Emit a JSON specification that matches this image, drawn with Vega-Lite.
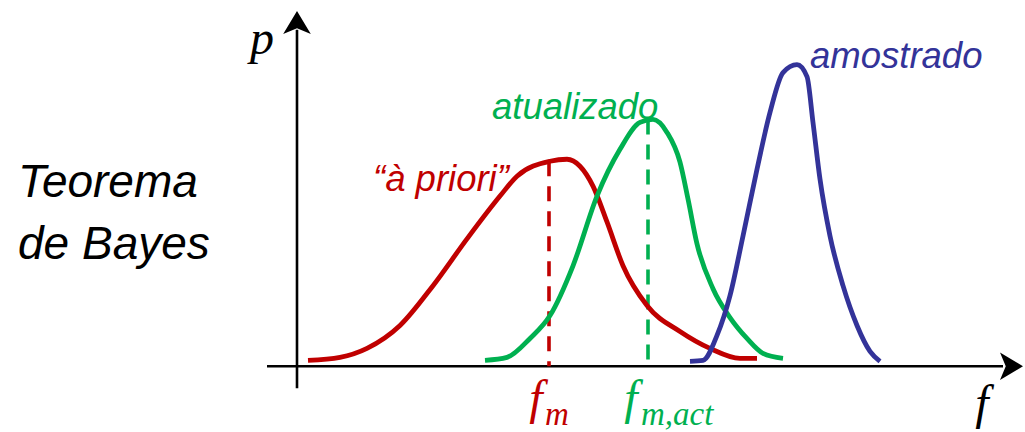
{
  "$schema": "https://vega.github.io/schema/vega-lite/v6.json",
  "width": 1025,
  "height": 432,
  "autosize": {"type": "fit", "contains": "padding"},
  "padding": 0,
  "background": "white",
  "config": {"view": {"stroke": null}},
  "datasets": {
    "axes": [
      {"f": -0.30, "f2": 7.06, "p": 0, "p2": 0, "series": "axis"},
      {"f": 0, "f2": 0, "p": -0.22, "p2": 3.38, "series": "axis"}
    ],
    "heads": [
      {"f": 7.145, "p": 0, "dir": "right", "series": "axis"},
      {"f": 0, "p": 3.455, "dir": "up", "series": "axis"}
    ],
    "curves": [
      {"series": "prior", "f": 0.11, "p": 0.06},
      {"series": "prior", "f": 0.43, "p": 0.09},
      {"series": "prior", "f": 0.70, "p": 0.18},
      {"series": "prior", "f": 1.03, "p": 0.41},
      {"series": "prior", "f": 1.36, "p": 0.81},
      {"series": "prior", "f": 1.70, "p": 1.28},
      {"series": "prior", "f": 2.03, "p": 1.71},
      {"series": "prior", "f": 2.20, "p": 1.91},
      {"series": "prior", "f": 2.53, "p": 2.06},
      {"series": "prior", "f": 2.70, "p": 2.08},
      {"series": "prior", "f": 2.83, "p": 2.01},
      {"series": "prior", "f": 2.96, "p": 1.81},
      {"series": "prior", "f": 3.10, "p": 1.45},
      {"series": "prior", "f": 3.26, "p": 1.01},
      {"series": "prior", "f": 3.50, "p": 0.61},
      {"series": "prior", "f": 3.83, "p": 0.35},
      {"series": "prior", "f": 4.13, "p": 0.18},
      {"series": "prior", "f": 4.43, "p": 0.08},
      {"series": "prior", "f": 4.60, "p": 0.08},
      {"series": "updated", "f": 1.88, "p": 0.06},
      {"series": "updated", "f": 2.10, "p": 0.09},
      {"series": "updated", "f": 2.33, "p": 0.28},
      {"series": "updated", "f": 2.53, "p": 0.51},
      {"series": "updated", "f": 2.76, "p": 1.01},
      {"series": "updated", "f": 3.00, "p": 1.71},
      {"series": "updated", "f": 3.23, "p": 2.18},
      {"series": "updated", "f": 3.43, "p": 2.45},
      {"series": "updated", "f": 3.56, "p": 2.48},
      {"series": "updated", "f": 3.70, "p": 2.35},
      {"series": "updated", "f": 3.83, "p": 2.05},
      {"series": "updated", "f": 3.91, "p": 1.68},
      {"series": "updated", "f": 4.00, "p": 1.23},
      {"series": "updated", "f": 4.16, "p": 0.78},
      {"series": "updated", "f": 4.33, "p": 0.49},
      {"series": "updated", "f": 4.50, "p": 0.28},
      {"series": "updated", "f": 4.66, "p": 0.13},
      {"series": "updated", "f": 4.86, "p": 0.08},
      {"series": "sampled", "f": 3.93, "p": 0.05},
      {"series": "sampled", "f": 4.06, "p": 0.06},
      {"series": "sampled", "f": 4.20, "p": 0.31},
      {"series": "sampled", "f": 4.33, "p": 0.71},
      {"series": "sampled", "f": 4.46, "p": 1.31},
      {"series": "sampled", "f": 4.60, "p": 1.98},
      {"series": "sampled", "f": 4.73, "p": 2.55},
      {"series": "sampled", "f": 4.86, "p": 2.95},
      {"series": "sampled", "f": 5.00, "p": 3.03},
      {"series": "sampled", "f": 5.10, "p": 2.91},
      {"series": "sampled", "f": 5.16, "p": 2.45},
      {"series": "sampled", "f": 5.23, "p": 1.88},
      {"series": "sampled", "f": 5.33, "p": 1.31},
      {"series": "sampled", "f": 5.46, "p": 0.81},
      {"series": "sampled", "f": 5.60, "p": 0.41},
      {"series": "sampled", "f": 5.73, "p": 0.15},
      {"series": "sampled", "f": 5.83, "p": 0.05}
    ],
    "modes": [
      {"series": "prior", "f": 2.52, "p": 2.06, "p2": 0},
      {"series": "updated", "f": 3.51, "p": 2.48, "p2": 0}
    ],
    "names": [
      {"series": "prior", "f": 0.76, "p": 1.76, "text": "“à priori”"},
      {"series": "updated", "f": 1.95, "p": 2.48, "text": "atualizado"},
      {"series": "sampled", "f": 5.13, "p": 3.00, "text": "amostrado"}
    ],
    "heading": [
      {"series": "axis", "f": -2.79, "p": 1.70, "text": "Teorema"},
      {"series": "axis", "f": -2.79, "p": 1.08, "text": "de Bayes"}
    ],
    "symbols": [
      {"series": "axis", "f": -0.35, "p": 3.14, "text": "p"},
      {"series": "axis", "f": 6.85, "p": -0.53, "text": "f"},
      {"series": "prior", "f": 2.39, "p": -0.48, "text": "f"},
      {"series": "updated", "f": 3.34, "p": -0.48, "text": "f"}
    ],
    "subscripts": [
      {"series": "prior", "f": 2.48, "p": -0.59, "text": "m"},
      {"series": "updated", "f": 3.44, "p": -0.59, "text": "m,act"}
    ]
  },
  "encoding": {
    "x": {"field": "f", "type": "quantitative", "axis": null,
          "scale": {"domain": [-2.97, 7.28], "nice": false, "zero": false}},
    "y": {"field": "p", "type": "quantitative", "axis": null,
          "scale": {"domain": [-0.64, 3.68], "nice": false, "zero": false}},
    "color": {"field": "series", "type": "nominal", "legend": null,
              "scale": {"domain": ["prior", "updated", "sampled", "axis"],
                        "range": ["#c00000", "#00b050", "#333399", "#000000"]}}
  },
  "layer": [
    {
      "data": {"name": "axes"},
      "mark": {"type": "rule", "strokeWidth": 2.6},
      "encoding": {
        "x2": {"field": "f2"},
        "y2": {"field": "p2"}
      }
    },
    {
      "data": {"name": "heads"},
      "mark": {"type": "point", "filled": true, "size": 529, "opacity": 1, "strokeWidth": 0},
      "encoding": {
        "shape": {"field": "dir", "type": "nominal", "legend": null,
                  "scale": {"domain": ["right", "up"],
                            "range": ["M1,0L-1,-1.2L-0.5,0L-1,1.2Z", "M0,-1L1.2,1L0,0.5L-1.2,1Z"]}}
      }
    },
    {
      "data": {"name": "modes"},
      "mark": {"type": "rule", "strokeWidth": 3.6, "strokeDash": [15, 10]},
      "encoding": {
        "y2": {"field": "p2"}
      }
    },
    {
      "data": {"name": "curves"},
      "mark": {"type": "line", "interpolate": "monotone", "strokeWidth": 4.8},
      "encoding": {
        "detail": {"field": "series"}
      }
    },
    {
      "data": {"name": "names"},
      "mark": {"type": "text", "font": "Liberation Sans", "fontStyle": "italic",
               "fontSize": 36.5, "align": "left", "baseline": "alphabetic"},
      "encoding": {"text": {"field": "text"}}
    },
    {
      "data": {"name": "heading"},
      "mark": {"type": "text", "font": "Liberation Sans", "fontStyle": "italic",
               "fontSize": 46, "align": "left", "baseline": "alphabetic"},
      "encoding": {"text": {"field": "text"}}
    },
    {
      "data": {"name": "symbols"},
      "mark": {"type": "text", "font": "Liberation Serif", "fontStyle": "italic",
               "fontSize": 48, "align": "center", "baseline": "alphabetic"},
      "encoding": {"text": {"field": "text"}}
    },
    {
      "data": {"name": "subscripts"},
      "mark": {"type": "text", "font": "Liberation Serif", "fontStyle": "italic",
               "fontSize": 33, "align": "left", "baseline": "alphabetic"},
      "encoding": {"text": {"field": "text"}}
    }
  ]
}
